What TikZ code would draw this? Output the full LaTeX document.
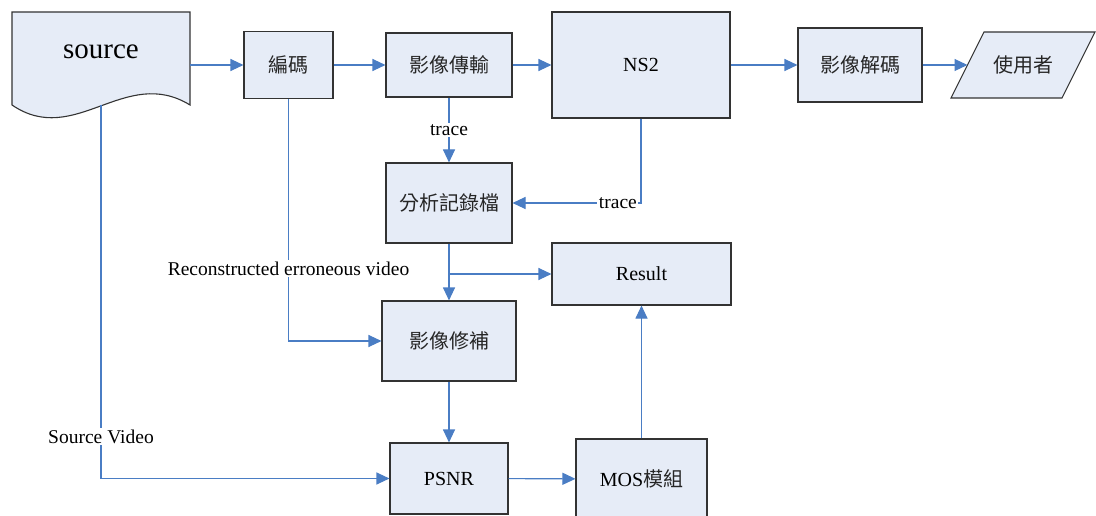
\documentclass[tikz,border=0pt]{standalone}
\usepackage{fontspec}
\usepackage{xcolor}
\setmainfont{Liberation Serif}
\newfontfamily\cjk{Noto Sans CJK TC}
\usetikzlibrary{arrows.meta,positioning}
\definecolor{boxfill}{HTML}{E6ECF7}
\definecolor{flowblue}{HTML}{4A7DC4}
\newcommand{\zh}[1]{{\cjk\color{black!85}#1}}

\begin{document}
\begin{tikzpicture}[
    x=1pt, y=-1pt,
    >={Triangle[length=13pt,width=12pt]},
    outline/.style={draw=black!80, fill=boxfill, line width=1.1pt},
    block/.style={rectangle, outline, inner sep=0pt, font=\fontsize{20}{24}\selectfont},
    flow/.style={->, flowblue, line width=1.1pt},
    lbl/.style={fill=white, text=black, inner sep=1.5pt, font=\fontsize{19.5}{22}\selectfont}
  ]
  \useasboundingbox (0,0) rectangle (1096,516);
  % source document
  \draw[outline] (12,105) -- (12,12) -- (190,12) -- (190,105)
    .. controls (125,65) and (75,148) .. (12,105) -- cycle;
  \node[minimum width=178pt, minimum height=93pt, inner sep=0pt] (src) at (101,58.5) {};
  \node[font=\fontsize{29}{32}\selectfont] (srclabel) at (101,52) {source};
  % top row
  \node[block, minimum width=89pt, minimum height=67pt] (enc) at (288.5,65) {\zh{編碼}};
  \node[block, minimum width=126pt, minimum height=64pt] (trans) at (449,65) {\zh{影像傳輸}};
  \node[block, minimum width=178pt, minimum height=106pt] (ns) at (641,65) {NS2};
  \node[block, minimum width=124pt, minimum height=74pt] (dec) at (860,65) {\zh{影像解碼}};
  \draw[outline] (951,98) -- (984,32) -- (1095,32) -- (1062,98) -- cycle;
  \node[font=\fontsize{20}{24}\selectfont] (user) at (1023,65) {\zh{使用者}};
  \coordinate (userin) at (967.5,65);
  % analysis column
  \node[block, minimum width=126pt, minimum height=80pt] (ana) at (449,203) {\zh{分析記錄檔}};
  \node[block, minimum width=179pt, minimum height=62pt] (res) at (641.5,274) {Result};
  \node[block, minimum width=134pt, minimum height=80pt] (fix) at (449,341) {\zh{影像修補}};
  \node[block, minimum width=118pt, minimum height=71pt] (psnr) at (449,478.5) {PSNR};
  \node[block, minimum width=131pt, minimum height=80pt] (mos) at (641.5,479) {MOS\zh{模組}};
  % connectors
  \draw[flow] (src.east |- enc) -- (enc);
  \draw[flow] (enc) -- (trans);
  \draw[flow] (trans) -- (ns);
  \draw[flow] (ns) -- (dec);
  \draw[flow] (dec) -- (userin);
  \draw[flow] (trans) -- node[lbl] {trace} (ana);
  \draw[flow] (ns.south) |- node[lbl, pos=0.59] {trace} (ana);
  \draw[flow] (ana) -- (fix);
  \draw[flow] (ana.south |- res) -- (res);
  \draw[flow] (enc.south) |- node[lbl, pos=0.35] {Reconstructed erroneous video} (fix);
  \draw[flow] (src.south) |- node[lbl, pos=0.444] {Source Video} (psnr);
  \draw[flow] (fix) -- (psnr);
  \draw[flow] (psnr) -- (mos);
  \draw[flow] (mos) -- (res);
\end{tikzpicture}
\end{document}
